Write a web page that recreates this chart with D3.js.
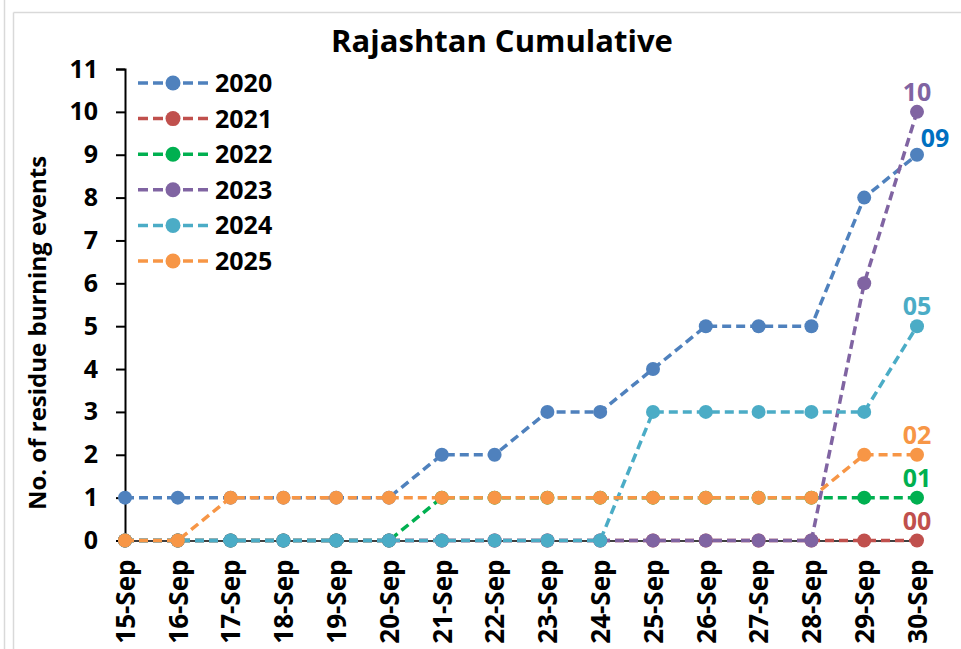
<!DOCTYPE html>
<html>
<head>
<meta charset="utf-8">
<script src="https://cdn.jsdelivr.net/npm/d3@7"></script>
<style>
  body { margin: 0; background: #fff; }
  text { font-family: "Open Sans", sans-serif; font-weight: bold; }
</style>
</head>
<body>
<svg id="chart" width="961" height="649"></svg>
<script>
// data
const days = ["15-Sep", "16-Sep", "17-Sep", "18-Sep", "19-Sep", "20-Sep", "21-Sep", "22-Sep",
  "23-Sep", "24-Sep", "25-Sep", "26-Sep", "27-Sep", "28-Sep", "29-Sep", "30-Sep"];
const years = ["2020", "2021", "2022", "2023", "2024", "2025"];
const v2020 = [1, 1, 1, 1, 1, 1, 2, 2, 3, 3, 4, 5, 5, 5, 8, 9];
const v2021 = [0, 0, 0, 0, 0, 0, 0, 0, 0, 0, 0, 0, 0, 0, 0, 0];
const v2022 = [0, 0, 0, 0, 0, 0, 1, 1, 1, 1, 1, 1, 1, 1, 1, 1];
const v2023 = [0, 0, 0, 0, 0, 0, 0, 0, 0, 0, 0, 0, 0, 0, 6, 10];
const v2024 = [0, 0, 0, 0, 0, 0, 0, 0, 0, 0, 3, 3, 3, 3, 3, 5];
const v2025 = [0, 0, 1, 1, 1, 1, 1, 1, 1, 1, 1, 1, 1, 1, 2, 2];
const endLabels = ["09", "00", "01", "10", "05", "02"];
const yTicks = [0, 1, 2, 3, 4, 5, 6, 7, 8, 9, 10, 11];

const colors = ["#4F81BD", "#C0504D", "#00B050", "#8064A2", "#4BACC6", "#F79646"];
const labelColors = ["#0070C0", "#C0504D", "#00B050", "#8064A2", "#4BACC6", "#F79646"];

const series = [v2020, v2021, v2022, v2023, v2024, v2025].map((vals, i) => ({
  year: years[i],
  color: colors[i],
  values: vals.map((v, j) => ({ day: days[j], v: v }))
}));

const svg = d3.select("#chart");

// outer frame bits (light grey)
svg.append("line").attr("x1", 4.5).attr("x2", 4.5).attr("y1", 0).attr("y2", 649)
  .attr("stroke", "#d9d9d9").attr("stroke-width", 1.5);
svg.append("line").attr("x1", 13.5).attr("x2", 13.5).attr("y1", 12.5).attr("y2", 649)
  .attr("stroke", "#d9d9d9").attr("stroke-width", 1.5);
svg.append("line").attr("x1", 13.5).attr("x2", 961).attr("y1", 12.5).attr("y2", 12.5)
  .attr("stroke", "#d9d9d9").attr("stroke-width", 1.5);

const x = d3.scalePoint().domain(days).range([125, 917]).padding(0);
const y = d3.scaleLinear().domain([0, 11]).range([540.5, 69]);

// title
svg.append("text")
  .attr("x", 502).attr("y", 52)
  .attr("text-anchor", "middle")
  .attr("font-size", 31)
  .text("Rajashtan Cumulative");

// y axis
const gy = svg.append("g")
  .attr("transform", "translate(125,0)")
  .call(d3.axisLeft(y).tickValues(yTicks).tickSize(9).tickPadding(18));
gy.select(".domain").attr("stroke", "#000").attr("stroke-width", 2);
gy.selectAll(".tick line").attr("stroke", "#000").attr("stroke-width", 2);
gy.selectAll(".tick text").attr("font-size", 25).attr("fill", "#000")
  .attr("font-family", "Open Sans").attr("font-weight", "bold");

svg.append("text")
  .attr("transform", "translate(46,333) rotate(-90)")
  .attr("text-anchor", "middle")
  .attr("font-size", 24)
  .text("No. of residue burning events");

// x axis at zero
const gx = svg.append("g")
  .attr("transform", `translate(0,${y(0)})`)
  .call(d3.axisBottom(x).tickSize(6).tickSizeOuter(0));
gx.select(".domain").attr("stroke", "#000").attr("stroke-width", 1.5);
gx.selectAll(".tick line").attr("stroke", "#000").attr("stroke-width", 1.5);
gx.selectAll(".tick text")
  .attr("font-size", 26).attr("fill", "#000")
  .attr("font-family", "Open Sans").attr("font-weight", "bold")
  .attr("transform", "rotate(-90)")
  .attr("x", -19).attr("y", 0).attr("dy", "0.36em")
  .attr("text-anchor", "end");

// lines + markers
const line = d3.line().x(d => x(d.day)).y(d => y(d.v));

const g = svg.append("g");
series.forEach(s => {
  g.append("path")
    .datum(s.values)
    .attr("fill", "none")
    .attr("stroke", s.color)
    .attr("stroke-width", 3.5)
    .attr("stroke-dasharray", "9,5")
    .attr("d", line);
  g.selectAll(null)
    .data(s.values)
    .enter()
    .append("circle")
    .attr("cx", d => x(d.day))
    .attr("cy", d => y(d.v))
    .attr("r", 7)
    .attr("fill", s.color);
});

// end-point labels
series.forEach((s, i) => {
  const last = s.values[s.values.length - 1];
  const isBlue = i === 0;
  svg.append("text")
    .attr("x", x(last.day) + (isBlue ? 18 : 0))
    .attr("y", y(last.v) - (isBlue ? 8 : 11))
    .attr("text-anchor", "middle")
    .attr("font-size", 25)
    .attr("fill", labelColors[i])
    .text(endLabels[i]);
});

// legend
const leg = svg.append("g");
series.forEach((s, i) => {
  const ly = 83 + i * 35.6;
  leg.append("line")
    .attr("x1", 138).attr("x2", 208).attr("y1", ly).attr("y2", ly)
    .attr("stroke", s.color).attr("stroke-width", 3.5)
    .attr("stroke-dasharray", "10,5");
  leg.append("circle").attr("cx", 173).attr("cy", ly).attr("r", 7.5).attr("fill", s.color);
  leg.append("text")
    .attr("x", 215).attr("y", ly).attr("dy", "0.36em")
    .attr("font-size", 25)
    .text(s.year);
});
</script>
</body>
</html>
